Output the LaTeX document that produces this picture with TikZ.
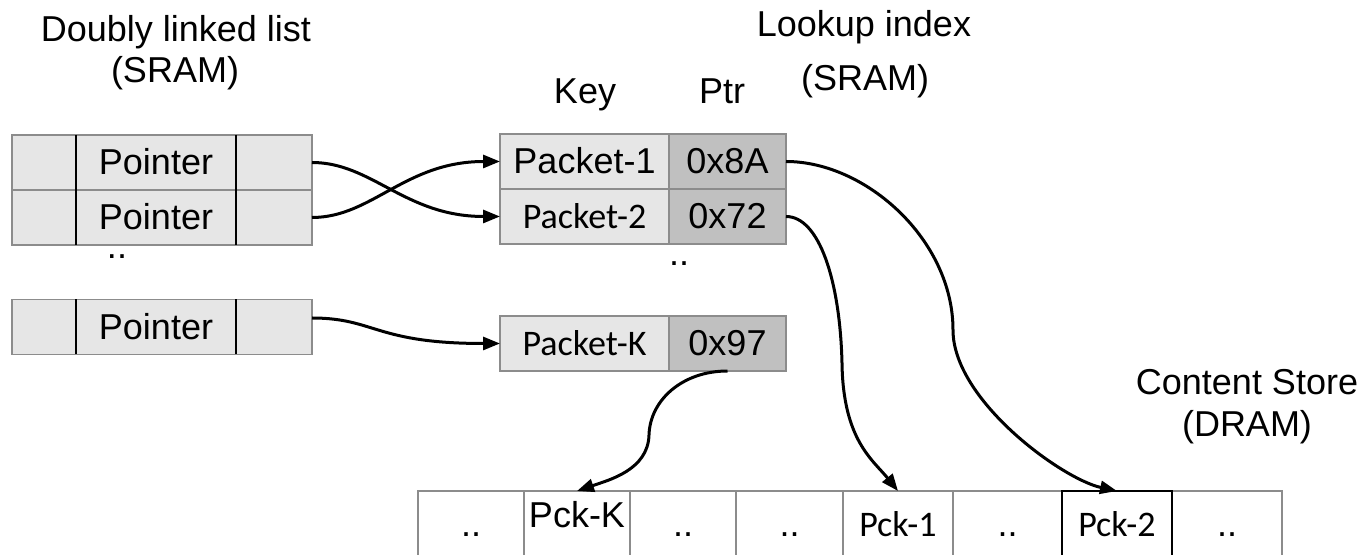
\documentclass[tikz,border=0pt]{standalone}
\usepackage{fontspec}
\setmainfont{Liberation Sans}
\newfontfamily\calfont{Carlito}
\usetikzlibrary{arrows.meta,calc}
\definecolor{lite}{HTML}{E6E6E6}
\definecolor{dark}{HTML}{C0C0C0}
\definecolor{edge}{HTML}{8C8C8C}
\begin{document}
\begin{tikzpicture}[x=0.5pt,y=-0.5pt,
  every node/.style={inner sep=0pt,outer sep=0pt,font=\fontsize{18}{21.6}\selectfont},
  lcell/.style={draw=edge,fill=lite,line width=0.75pt,minimum height=27.5pt,text height=20pt,text depth=7.5pt},
  dcell/.style={lcell,fill=dark},
  scell/.style={draw=edge,fill=white,line width=0.75pt,anchor=north,text height=23pt,text depth=30pt},
  lbl/.style={anchor=base,align=center},
  arr/.style={line width=1.5pt,-{Triangle[length=8.5pt,width=6.5pt]}},
  divline/.style={line width=1pt,black},
]
\clip (0,0) rectangle (1366,555);
\fill[white] (0,0) rectangle (1366,555);

% titles
\node[lbl] (t1) at (176,42) {Doubly linked list};
\node[lbl] (t1b) at (175,83) {(SRAM)};
\node[lbl] (t2) at (864,37) {Lookup index};
\node[lbl] (t2b) at (865,91) {(SRAM)};
\node[lbl] (hk) at (585,104) {Key};
\node[lbl] (hp) at (722,104) {Ptr};
\node[lbl] (t3) at (1247,395) {Content Store};
\node[lbl] (t3b) at (1247,437) {(DRAM)};

% doubly linked list
\node[lcell,minimum width=32pt] (l1a) at (44,162.5) {};
\node[lcell,minimum width=80pt] (l1) at (156,162.5) {Pointer};
\node[lcell,minimum width=38pt] (l1c) at (274,162.5) {};
\node[lcell,minimum width=32pt] (l2a) at (44,217.5) {};
\node[lcell,minimum width=80pt] (l2) at (156,217.5) {Pointer};
\node[lcell,minimum width=38pt] (l2c) at (274,217.5) {};
\node[lcell,minimum width=32pt] (l3a) at (44,327) {};
\node[lcell,minimum width=80pt] (l3) at (156,327) {Pointer};
\node[lcell,minimum width=38pt] (l3c) at (274,327) {};
\draw[divline] (l1.north west) -- (l2.south west);
\draw[divline] (l1.north east) -- (l2.south east);
\draw[divline] (l3.north west) -- (l3.south west);
\draw[divline] (l3.north east) -- (l3.south east);
\node[anchor=base] (d1) at (117,259) {..};

% lookup index
\node[lcell,minimum width=84.5pt] (k1) at (584.5,161.5) {Packet-1};
\node[dcell,minimum width=58.5pt] (p1) at (727.5,161.5) {0x8A};
\node[lcell,minimum width=84.5pt] (k2) at (584.5,216.5) {\calfont Packet-2};
\node[dcell,minimum width=58.5pt] (p2) at (727.5,216.5) {0x72};
\node[lcell,minimum width=84.5pt] (k3) at (584.5,343.5) {\calfont Packet-K};
\node[dcell,minimum width=58.5pt] (p3) at (727.5,343.5) {0x97};
\node[anchor=base] (d2) at (679,266) {..};

% content store
\node[scell,minimum width=53pt] (c1) at (471,491) {..};
\node[scell,minimum width=53pt] (c2) at (577,491) {\raisebox{4.5pt}{Pck-K}};
\node[scell,minimum width=53pt] (c3) at (683,491) {..};
\node[scell,minimum width=53.5pt] (c4) at (789.5,491) {..};
\node[scell,minimum width=55pt] (c5) at (898,491) {\calfont Pck-1};
\node[scell,minimum width=54.5pt] (c6) at (1007.5,491) {..};
\node[scell,minimum width=55pt] (c8) at (1227,491) {..};
\node[scell,minimum width=55pt,draw=black,line width=1pt] (c7) at (1117,491) {\calfont Pck-2};

% connectors
\coordinate (m1) at (953,330);
\coordinate (m2) at (842,363);
\coordinate (m3) at (649,435);
\draw[arr] (l1c.east) .. controls +(60,0) and +(-95,0) .. (k2.west);
\draw[arr] (l2c.east) .. controls +(60,0) and +(-95,0) .. (k1.west);
\draw[arr] ($(l3c.east)+(0,-9)$) .. controls +(63,0) and +(-125,0) .. (k3.west);
\draw[arr] (p1.east) .. controls +(80,0) and +(0,-90) .. (m1) .. controls +(0,70) and +(-55,-12) .. (c7.north);
\draw[arr] (p2.east) .. controls +(33,0) and +(-2,-83) .. (m2) .. controls +(1,77) and +(-25,-31) .. (c5.north);
\draw[arr] (p3.south) .. controls +(-45,0) and +(1,-35) .. (m3) .. controls +(-1,35) and +(32,-11) .. (c2.north);
\end{tikzpicture}
\end{document}
